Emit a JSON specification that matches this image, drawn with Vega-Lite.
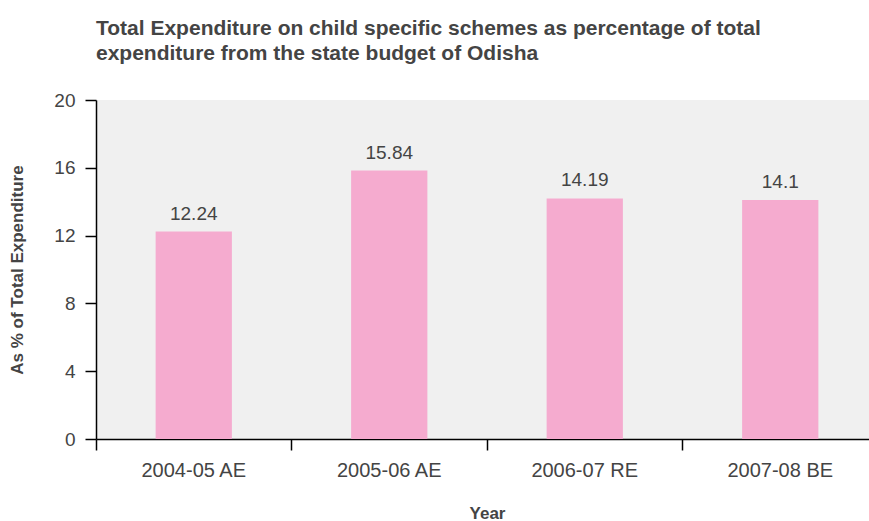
{
  "$schema": "https://vega.github.io/schema/vega-lite/v6.json",
  "width": 782,
  "height": 339,
  "autosize": {"type": "none"},
  "padding": {"left": 96, "top": 100, "right": 0, "bottom": 82},
  "background": "white",
  "title": {
    "text": ["Total Expenditure on child specific schemes as percentage of total", "expenditure from the state budget of Odisha"],
    "anchor": "start",
    "frame": "group",
    "font": "Liberation Sans",
    "fontSize": 21,
    "fontWeight": "bold",
    "color": "#444444",
    "lineHeight": 25,
    "offset": 27
  },
  "config": {
    "view": {"fill": "#f0f0f0", "stroke": null},
    "axis": {
      "labelFont": "Liberation Sans",
      "titleFont": "Liberation Sans",
      "labelColor": "#444444",
      "titleColor": "#444444",
      "domainColor": "#000000",
      "tickColor": "#000000",
      "domainWidth": 1.5,
      "tickWidth": 1.5,
      "tickSize": 11,
      "grid": false
    }
  },
  "data": {
    "values": [
      {"year": "2004-05 AE", "value": 12.24},
      {"year": "2005-06 AE", "value": 15.84},
      {"year": "2006-07 RE", "value": 14.19},
      {"year": "2007-08 BE", "value": 14.1}
    ]
  },
  "encoding": {
    "x": {
      "field": "year",
      "type": "nominal",
      "sort": null,
      "scale": {"paddingInner": 0, "paddingOuter": 0},
      "axis": {
        "title": "Year",
        "labelAngle": 0,
        "labelFontSize": 20,
        "labelPadding": 10,
        "titleFontSize": 17,
        "titleFontWeight": "bold",
        "titlePadding": 25,
        "bandPosition": 0
      }
    },
    "y": {
      "field": "value",
      "type": "quantitative",
      "scale": {"domain": [0, 20]},
      "axis": {
        "title": "As % of Total Expenditure",
        "values": [0, 4, 8, 12, 16, 20],
        "labelFontSize": 19,
        "labelPadding": 10,
        "titleFontSize": 17,
        "titleFontWeight": "bold",
        "titlePadding": 27
      }
    }
  },
  "layer": [
    {
      "mark": {"type": "bar", "color": "#f5abcf", "width": {"band": 0.39}}
    },
    {
      "mark": {"type": "text", "dy": -18, "font": "Liberation Sans", "fontSize": 19, "color": "#444444"},
      "encoding": {"text": {"field": "value", "type": "quantitative"}}
    }
  ]
}
